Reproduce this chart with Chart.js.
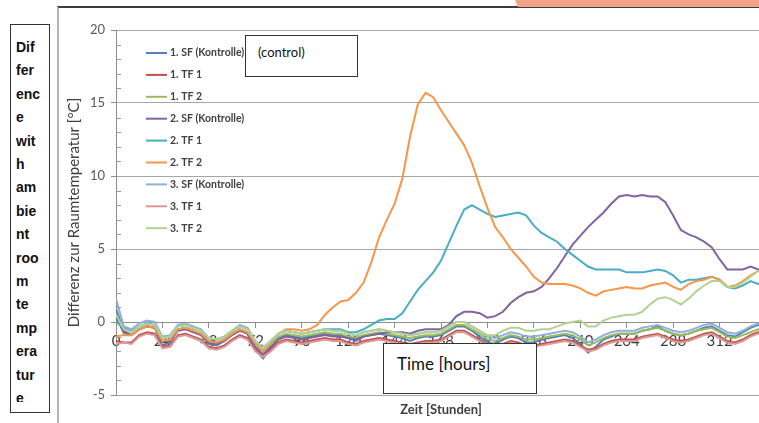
<!DOCTYPE html>
<html><head><meta charset="utf-8">
<script src="https://cdn.jsdelivr.net/npm/chart.js@4/dist/chart.umd.min.js"></script>
<style>
html,body{margin:0;padding:0;background:#fff;width:759px;height:423px;overflow:hidden;position:relative;font-family:Lato,"Open Sans",sans-serif;}
#wrap{position:absolute;left:0;top:0;width:790px;height:423px;}
#salmon{position:absolute;left:0;top:0;width:759px;height:7px;background:#f4a38b;clip-path:polygon(515px 0,759px 0,759px 7px,518px 7px);}
#frame{position:absolute;left:57px;top:6px;width:760px;height:430px;border-left:2px solid #b4b4b4;border-top:2px solid #3c3c3c;box-sizing:border-box;}
#side{position:absolute;left:10px;top:24px;width:40px;height:389px;border:1.5px solid #333;box-sizing:border-box;background:#fff;}
#sideText{position:absolute;left:5px;top:11px;width:33px;height:366px;overflow:hidden;font:bold 14px/23.4px "Liberation Sans",Arial,sans-serif;color:#111;}
.box{position:absolute;background:#fff;border:1.5px solid #333;box-sizing:border-box;color:#111;}
#ctrl{left:245px;top:35px;width:113px;height:42px;font:13px/16px Lato,sans-serif;padding:8px 0 0 12px;}
#time{left:383px;top:343px;width:154px;height:51px;font:17px/20px Lato,sans-serif;padding:10px 0 0 13px;}
</style>
</head><body>
<div id="wrap"><canvas id="c" width="790" height="423"></canvas></div>
<div id="frame"></div>
<div id="salmon"></div>
<div id="side"><div id="sideText">Dif<br>fer<br>enc<br>e<br>wit<br>h<br>am<br>bie<br>nt<br>roo<br>m<br>te<br>mp<br>era<br>tur<br>e</div></div>
<div class="box" id="ctrl">(control)</div>
<div class="box" id="time">Time [hours]</div>
<script>
const hours = [0,4,8,12,16,20,24,28,32,36,40,44,48,52,56,60,64,68,72,76,80,84,88,92,96,100,104,108,112,116,120,124,128,132,136,140,144,148,152,156,160,164,168,172,176,180,184,188,192,196,200,204,208,212,216,220,224,228,232,236,240,244,248,252,256,260,264,268,272,276,280,284,288,292,296,300,304,308,312,316,320,324,328,332,336];
const seriesNames = ["1. SF (Kontrolle)","1. TF 1","1. TF 2","2. SF (Kontrolle)","2. TF 1","2. TF 2","3. SF (Kontrolle)","3. TF 1","3. TF 2"];
const sf1 = [0.9,-0.6,-0.9,-0.5,-0.3,-0.4,-1.6,-1.4,-0.5,-0.4,-0.6,-0.9,-1.5,-1.6,-1.3,-0.8,-0.5,-0.8,-1.9,-2.5,-1.8,-1.1,-0.9,-1.0,-1.1,-1.0,-0.9,-0.8,-0.9,-0.9,-1.1,-1.3,-1.0,-0.9,-0.8,-0.9,-1.0,-1.1,-1.3,-1.1,-1.0,-1.0,-0.9,-0.6,-0.3,-0.3,-0.6,-1.0,-1.4,-1.5,-1.2,-1.0,-1.1,-1.4,-1.4,-1.2,-1.1,-1.0,-0.9,-1.1,-1.5,-2.1,-1.7,-1.2,-1.0,-0.8,-0.8,-0.8,-0.6,-0.5,-0.3,-0.6,-0.8,-0.9,-0.8,-0.6,-0.4,-0.3,-0.6,-0.9,-1.0,-0.7,-0.4,-0.2,-0.2];
const tf1a = [-1.3,-1.4,-1.4,-0.9,-0.7,-0.8,-1.7,-1.6,-0.9,-0.8,-1.0,-1.2,-1.7,-1.8,-1.6,-1.2,-0.9,-1.1,-1.9,-2.3,-1.9,-1.4,-1.2,-1.3,-1.4,-1.3,-1.2,-1.1,-1.2,-1.2,-1.4,-1.5,-1.3,-1.2,-1.1,-1.2,-1.3,-1.4,-1.5,-1.4,-1.3,-1.3,-1.2,-0.9,-0.6,-0.6,-0.9,-1.2,-1.6,-1.7,-1.5,-1.3,-1.4,-1.6,-1.6,-1.5,-1.4,-1.3,-1.2,-1.3,-1.6,-1.9,-1.8,-1.5,-1.3,-1.2,-1.2,-1.2,-1.0,-0.9,-0.8,-1.0,-1.2,-1.3,-1.2,-1.0,-0.8,-0.7,-1.0,-1.3,-1.4,-1.2,-0.9,-0.7,-0.7];
const tf2a = [0.6,-0.8,-0.9,-0.5,-0.3,-0.4,-1.3,-1.2,-0.5,-0.4,-0.6,-0.8,-1.3,-1.4,-1.2,-0.8,-0.5,-0.7,-1.5,-2.0,-1.5,-1.0,-0.8,-0.9,-1.0,-0.9,-0.8,-0.7,-0.8,-0.8,-1.0,-1.1,-0.9,-0.8,-0.7,-0.8,-0.9,-1.0,-1.1,-1.0,-0.9,-0.9,-0.8,-0.5,-0.2,-0.2,-0.5,-0.8,-1.2,-1.3,-1.1,-0.9,-1.0,-1.2,-1.2,-1.1,-1.0,-0.9,-0.8,-0.9,-1.2,-1.6,-1.4,-1.1,-0.9,-0.8,-0.8,-0.8,-0.6,-0.5,-0.4,-0.6,-0.8,-0.9,-0.8,-0.6,-0.5,-0.4,-0.7,-1.0,-1.1,-0.9,-0.7,-0.5,-0.5];
const sf2 = [0.3,-0.7,-0.9,-0.5,-0.3,-0.4,-1.3,-1.3,-0.6,-0.5,-0.7,-0.9,-1.4,-1.5,-1.3,-0.9,-0.6,-0.8,-1.7,-2.2,-1.7,-1.2,-1.0,-1.1,-1.2,-1.1,-1.0,-0.9,-1.0,-1.0,-1.1,-1.2,-1.0,-0.9,-0.8,-0.7,-0.7,-0.7,-0.8,-0.6,-0.5,-0.5,-0.5,-0.2,0.4,0.7,0.7,0.6,0.3,0.4,0.7,1.3,1.7,2.0,2.1,2.4,3.0,3.7,4.5,5.3,5.9,6.5,7.0,7.5,8.1,8.6,8.7,8.6,8.7,8.6,8.6,8.2,7.3,6.3,6.0,5.8,5.5,5.1,4.3,3.6,3.6,3.6,3.8,3.6,3.5];
const tf1b = [0.0,-0.4,-0.6,-0.3,-0.1,-0.2,-1.1,-1.0,-0.3,-0.2,-0.4,-0.6,-1.1,-1.2,-1.0,-0.6,-0.3,-0.5,-1.3,-1.8,-1.3,-0.8,-0.6,-0.7,-0.8,-0.7,-0.6,-0.5,-0.5,-0.5,-0.7,-0.7,-0.5,-0.2,0.1,0.2,0.2,0.6,1.4,2.2,2.8,3.4,4.2,5.4,6.6,7.7,8.0,7.7,7.4,7.2,7.3,7.4,7.5,7.3,6.6,6.1,5.8,5.5,5.0,4.6,4.2,3.8,3.6,3.6,3.6,3.6,3.4,3.4,3.4,3.5,3.6,3.5,3.2,2.7,2.9,2.9,3.0,3.1,2.9,2.4,2.3,2.5,2.8,2.6,2.6];
const tf2b = [-1.0,-0.9,-0.9,-0.5,-0.3,-0.4,-1.3,-1.2,-0.5,-0.4,-0.6,-0.8,-1.3,-1.4,-1.2,-0.8,-0.5,-0.7,-1.5,-2.0,-1.4,-0.8,-0.5,-0.5,-0.6,-0.5,-0.2,0.5,1.0,1.4,1.5,2.0,2.7,4.1,5.8,7.0,8.1,9.8,12.7,14.9,15.7,15.4,14.5,13.7,12.9,12.1,10.9,9.3,7.8,6.5,5.8,5.0,4.4,3.8,3.1,2.7,2.6,2.6,2.6,2.5,2.3,2.0,1.8,2.1,2.2,2.3,2.4,2.3,2.3,2.5,2.6,2.7,2.4,2.2,2.6,2.8,2.9,3.1,2.9,2.4,2.5,2.8,3.2,3.5,3.6];
const sf3 = [1.6,-0.3,-0.5,-0.1,0.1,0.0,-1.0,-0.9,-0.2,-0.1,-0.3,-0.5,-1.1,-1.2,-1.0,-0.6,-0.2,-0.4,-1.3,-1.8,-1.3,-0.8,-0.6,-0.7,-0.8,-0.7,-0.6,-0.5,-0.6,-0.6,-0.8,-0.9,-0.7,-0.6,-0.5,-0.6,-0.7,-0.8,-0.9,-0.8,-0.7,-0.7,-0.6,-0.3,0.0,0.0,-0.3,-0.6,-1.0,-1.1,-0.9,-0.7,-0.8,-1.0,-1.0,-0.9,-0.8,-0.7,-0.6,-0.7,-1.0,-1.4,-1.2,-0.9,-0.7,-0.6,-0.6,-0.6,-0.4,-0.3,-0.2,-0.4,-0.6,-0.7,-0.6,-0.4,-0.2,-0.1,-0.4,-0.7,-0.8,-0.6,-0.3,-0.1,-0.1];
const tf1c = [-1.5,-1.4,-1.5,-1.0,-0.8,-0.9,-1.8,-1.7,-1.0,-0.9,-1.1,-1.3,-1.8,-1.9,-1.7,-1.3,-1.0,-1.2,-2.0,-2.4,-2.0,-1.5,-1.3,-1.4,-1.5,-1.4,-1.3,-1.2,-1.3,-1.3,-1.5,-1.6,-1.4,-1.3,-1.2,-1.3,-1.4,-1.5,-1.6,-1.5,-1.4,-1.4,-1.3,-1.0,-0.7,-0.7,-1.0,-1.3,-1.7,-1.8,-1.6,-1.4,-1.5,-1.7,-1.7,-1.6,-1.5,-1.4,-1.3,-1.4,-1.7,-2.0,-1.9,-1.6,-1.4,-1.3,-1.3,-1.3,-1.1,-1.0,-0.9,-1.1,-1.3,-1.4,-1.3,-1.1,-0.9,-0.8,-1.1,-1.4,-1.5,-1.3,-1.0,-0.8,-0.8];
const tf2c = [0.5,-0.5,-0.7,-0.3,-0.1,-0.2,-1.1,-1.0,-0.3,-0.2,-0.4,-0.6,-1.1,-1.2,-1.0,-0.6,-0.3,-0.5,-1.3,-1.8,-1.3,-0.8,-0.6,-0.7,-0.8,-0.7,-0.6,-0.5,-0.6,-0.6,-0.8,-0.9,-0.7,-0.6,-0.5,-0.6,-0.7,-0.8,-0.9,-0.8,-0.7,-0.7,-0.6,-0.3,0.0,0.0,-0.3,-0.6,-0.9,-0.9,-0.6,-0.4,-0.4,-0.6,-0.6,-0.5,-0.5,-0.3,-0.1,0.0,0.1,-0.3,-0.3,0.1,0.3,0.4,0.5,0.5,0.7,1.2,1.6,1.7,1.5,1.2,1.6,2.1,2.5,2.8,2.8,2.4,2.4,2.7,3.1,3.5,3.6];
const yTicksMajor = [-5,0,5,10,15,20];
const xTickStep = 24;

const allSeries = [sf1,tf1a,tf2a,sf2,tf1b,tf2b,sf3,tf1c,tf2c];
const colors = ["#4f81bd","#c0504d","#9bbb59","#8064a2","#4bacc6","#f79646","#8eb0da","#dc9896","#b3d292"];

const datasets = allSeries.map((s,i)=>({
  label: seriesNames[i],
  data: hours.map((h,k)=>({x:h,y:s[k]})),
  borderColor: colors[i],
  backgroundColor: colors[i],
  borderWidth: 2,
  pointRadius: 0,
  tension: 0,
  order: 9-i
}));

const deco = {
  id:'deco',
  afterDatasetsDraw(chart){
    const {ctx, chartArea:a, scales:{y}} = chart;
    ctx.save();
    ctx.strokeStyle='#9a9a9a'; ctx.lineWidth=1;
    y.ticks.forEach(t=>{
      if (!yTicksMajor.includes(t.value)) {
        const py=Math.round(y.getPixelForValue(t.value))+0.5;
        ctx.beginPath(); ctx.moveTo(a.left,py); ctx.lineTo(a.left+5,py); ctx.stroke();
      }
    });
    chart.data.datasets.forEach((ds,i)=>{
      const yy = a.top + 23 + i*21.9;
      ctx.strokeStyle=ds.borderColor; ctx.lineWidth=2;
      ctx.beginPath(); ctx.moveTo(a.left+30,yy); ctx.lineTo(a.left+51,yy); ctx.stroke();
      ctx.fillStyle='#404040'; ctx.font='bold 10.5px Lato'; ctx.textBaseline='middle'; ctx.textAlign='left';
      ctx.fillText(ds.label, a.left+54, yy);
    });
    ctx.restore();
  }
};

new Chart(document.getElementById('c'), {
  type:'line',
  data:{datasets},
  plugins:[deco],
  options:{
    responsive:false, animation:false, devicePixelRatio:1,
    layout:{padding:{left:58, right:24, top:30, bottom:0}},
    plugins:{legend:{display:false}, tooltip:{enabled:false}},
    scales:{
      x:{
        type:'linear', min:0, max:336, position:{y:0},
        ticks:{stepSize:xTickStep, autoSkip:false, maxRotation:0, padding:5, color:'#404040', font:{family:'Lato', size:15},
          callback:(v)=> (v%xTickStep===0 && v<336) ? String(v) : ''},
        grid:{drawOnChartArea:false, drawTicks:true, tickLength:5, tickColor:'#8c8c8c'},
        border:{display:true, color:'#8c8c8c', width:1}
      },
      x2:{
        type:'linear', min:0, max:336, position:'bottom', axis:'x',
        ticks:{display:false}, grid:{display:false, drawTicks:false}, border:{display:false},
        title:{display:true, text:'Zeit [Stunden]', color:'#404040', font:{family:'Lato', size:13, weight:'bold'}, padding:{top:0,bottom:5}},
        afterFit:(s)=>{ s.height = 28; }
      },
      y:{
        min:-5, max:20, position:'left',
        ticks:{stepSize:1, autoSkip:false, padding:6, color:'#595959', font:{family:'Lato', size:13},
          callback:(v)=> yTicksMajor.includes(v) ? String(v) : ''},
        grid:{
          color:(c)=> (yTicksMajor.includes(c.tick.value) && c.tick.value!==0) ? '#a6a6a6' : 'rgba(0,0,0,0)',
          tickColor:(c)=> yTicksMajor.includes(c.tick.value) ? '#8c8c8c' : 'rgba(0,0,0,0)',
          tickLength:5
        },
        border:{display:true, color:'#8c8c8c', width:1},
        title:{display:true, text:'Differenz zur Raumtemperatur [°C]', color:'#404040', font:{family:'Lato', size:15}, padding:{top:7,bottom:0}},
        afterFit:(s)=>{ s.width = 58; }
      }
    }
  }
});
</script>
</body></html>
